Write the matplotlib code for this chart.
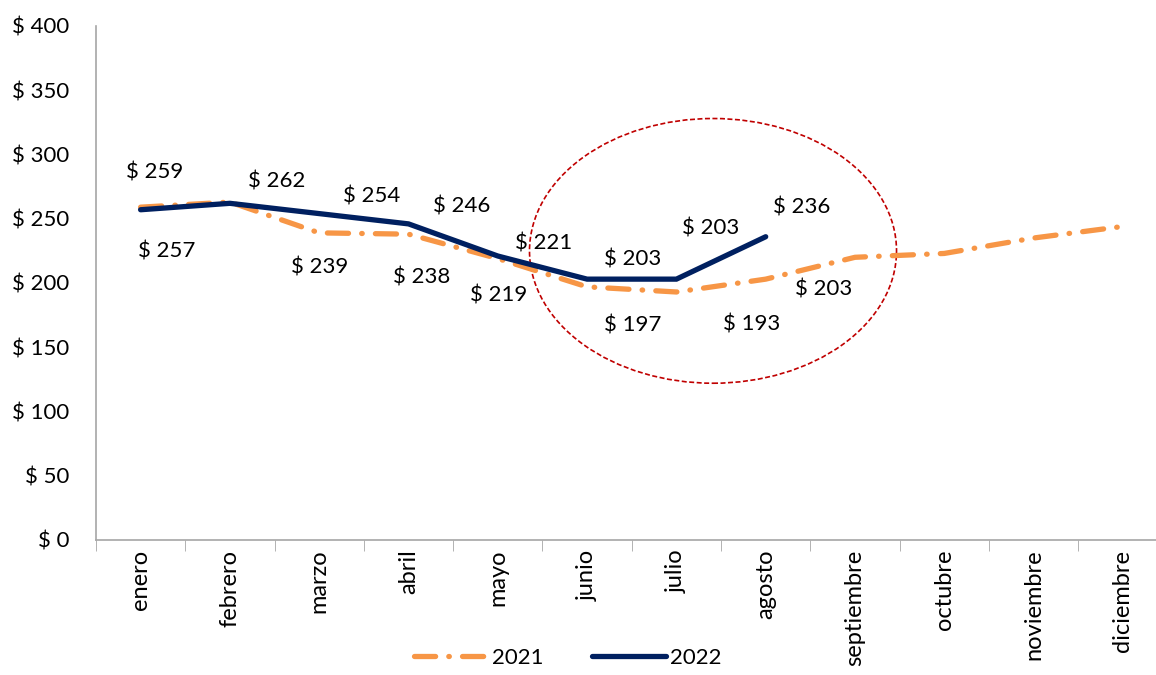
import matplotlib
matplotlib.use('Agg')
import matplotlib.pyplot as plt
from matplotlib.patches import Ellipse

plt.rcParams['font.family'] = ['Lato', 'DejaVu Sans']

# Datos
meses = ['enero', 'febrero', 'marzo', 'abril', 'mayo', 'junio', 'julio',
         'agosto', 'septiembre', 'octubre', 'noviembre', 'diciembre']
valores_2021 = [259, 263, 239, 238, 219, 197, 193, 203, 220, 223, 235, 244]
valores_2022 = [257, 262, 254, 246, 221, 203, 203, 236]
# meses con etiqueta en 2021 (índices)
etiquetas_2021 = [0, 2, 3, 4, 5, 6, 7]
etiquetas_2022 = [0, 1, 2, 3, 4, 5, 6, 7]

# desplazamientos de etiquetas (pixeles)
off_2021 = [(14, 35), (0, -35), (13, -43), (1, -37), (46, -39), (75, -33), (58, -10)]
off_2022 = [(26, -42), (47, 22), (52, 17), (53, 17), (46, 13), (46, 20), (34, 51), (36, 29)]

naranja = '#F79646'
azul = '#002060'

fig = plt.figure(figsize=(11.56, 6.75), dpi=100)
ax = fig.add_axes([0.083, 0.2, 0.927, 0.7615])

x21 = list(range(len(valores_2021)))
x22 = list(range(len(valores_2022)))

ax.plot(x21, valores_2021, color=naranja, lw=3.8, label='2021',
        linestyle=(0, (4, 2.5, 0.1, 2.5)), dash_capstyle='round')
ax.plot(x22, valores_2022, color=azul, lw=3.8, label='2022',
        solid_capstyle='round', solid_joinstyle='miter')

for i, (dx, dy) in zip(etiquetas_2021, off_2021):
    ax.annotate(f'$ {valores_2021[i]}', (x21[i], valores_2021[i]),
                xytext=(dx, dy), textcoords='offset pixels',
                ha='center', va='center', fontsize=16, color='black')
for i, (dx, dy) in zip(etiquetas_2022, off_2022):
    ax.annotate(f'$ {valores_2022[i]}', (x22[i], valores_2022[i]),
                xytext=(dx, dy), textcoords='offset pixels',
                ha='center', va='center', fontsize=16, color='black')

# elipse resaltando junio-agosto
elipse = Ellipse((6.41, 225), width=4.11, height=206, fill=False,
                 edgecolor='#C00000', lw=1.2, linestyle=(0, (3, 1.5)), clip_on=False)
ax.add_patch(elipse)

ax.set_xlim(-0.5, 11.5)
ax.set_ylim(0, 400)
ax.set_yticks(range(0, 401, 50))
ax.set_yticklabels([f'$ {v}' for v in range(0, 401, 50)], fontsize=16)
ax.tick_params(axis='y', length=0, pad=19)

ax.set_xticks(range(len(meses)))
ax.set_xticklabels(meses, rotation=90, fontsize=17, va='top')
ax.tick_params(axis='x', length=0, pad=7)
ax.set_xticks([i - 0.5 for i in range(len(meses) + 1)], minor=True)
ax.tick_params(axis='x', which='minor', length=8, color='#A6A6A6')

for s in ['top', 'right']:
    ax.spines[s].set_visible(False)
for s in ['left', 'bottom']:
    ax.spines[s].set_color('#A6A6A6')
    ax.spines[s].set_linewidth(1.2)

fig.legend(loc='center', bbox_to_anchor=(568 / 1156, 1 - 658 / 675), ncol=2,
           frameon=False, fontsize=16, handlelength=3.3, columnspacing=2.2,
           handletextpad=0.2)

fig.savefig('out.png', dpi=100)
